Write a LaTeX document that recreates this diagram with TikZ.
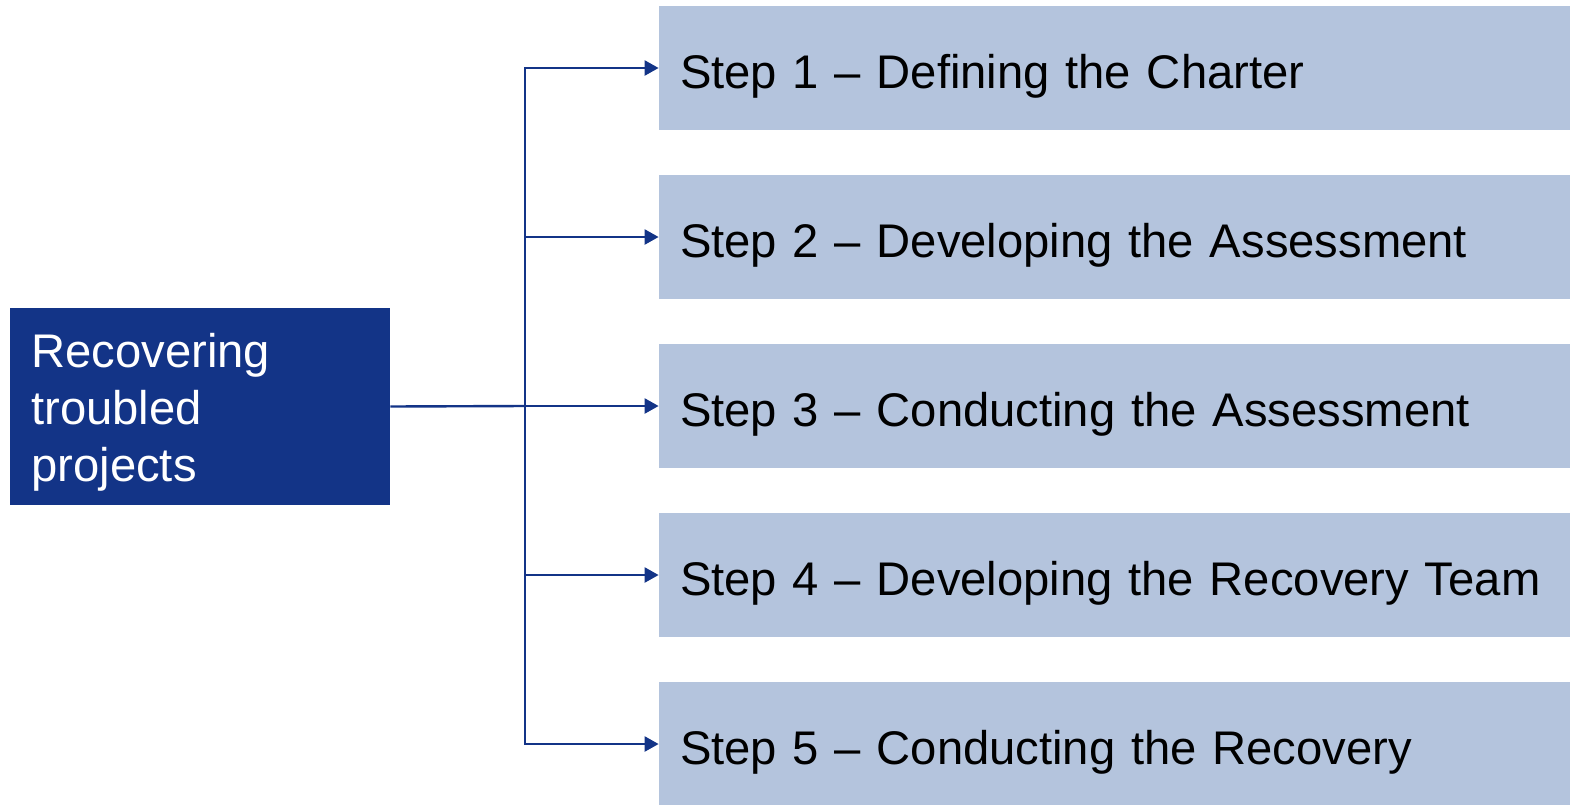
\documentclass[tikz,border=0pt]{standalone}
\usepackage{fontspec}
\setmainfont{Liberation Sans}
\usetikzlibrary{arrows.meta}
\definecolor{navy}{RGB}{19,52,135}
\definecolor{paleblue}{RGB}{180,196,221}
\tikzset{
  rootbox/.style={fill=navy, text=white, minimum width=190pt, minimum height=98.5pt,
    text width=169pt, inner xsep=10.5pt, align=left, inner ysep=0pt,
    font=\fontsize{23.6}{28.5}\selectfont},
  stepbox/.style={fill=paleblue, text=black, minimum width=455.5pt, minimum height=62pt,
    text width=434.5pt, inner xsep=10.5pt, align=left, inner ysep=0pt,
    text height=20pt, text depth=0pt,
    font=\fontsize{23.6}{28.5}\selectfont},
  link/.style={draw=navy, line width=1.2pt},
  tip/.style={-{Triangle[length=7pt,width=7.5pt]}}
}
\begin{document}
\begin{tikzpicture}[x=0.5pt,y=-0.5pt]
  \useasboundingbox (0,0) rectangle (1570,804);
  % root topic
  \node[rootbox] (root) at (200,406.5) {};
  \node[text=white, font=\fontsize{23.6}{28.5}\selectfont, align=left,
        anchor=north west, inner sep=0pt] (roottext) at (31,333)
        {Recovering\\troubled\\projects};
  % the five steps
  \node[stepbox] (s1) at (1114.5,68)  {Step 1 – Defining the Charter};
  \node[stepbox] (s2) at (1114.5,237) {Step 2 – Developing the Assessment};
  \node[stepbox] (s3) at (1114.5,406) {Step 3 – Conducting the Assessment};
  \node[stepbox] (s4) at (1114.5,575) {Step 4 – Developing the Recovery Team};
  \node[stepbox] (s5) at (1114.5,744) {Step 5 – Conducting the Recovery};
  % branching connectors
  \coordinate (j) at (525,406);
  \draw[link] (root.east) -- (j);
  \draw[link,tip] (j) |- (s1.west);
  \draw[link,tip] (j) |- (s2.west);
  \draw[link,tip] (j) -- (s3.west);
  \draw[link,tip] (j) |- (s4.west);
  \draw[link,tip] (j) |- (s5.west);
\end{tikzpicture}
\end{document}
